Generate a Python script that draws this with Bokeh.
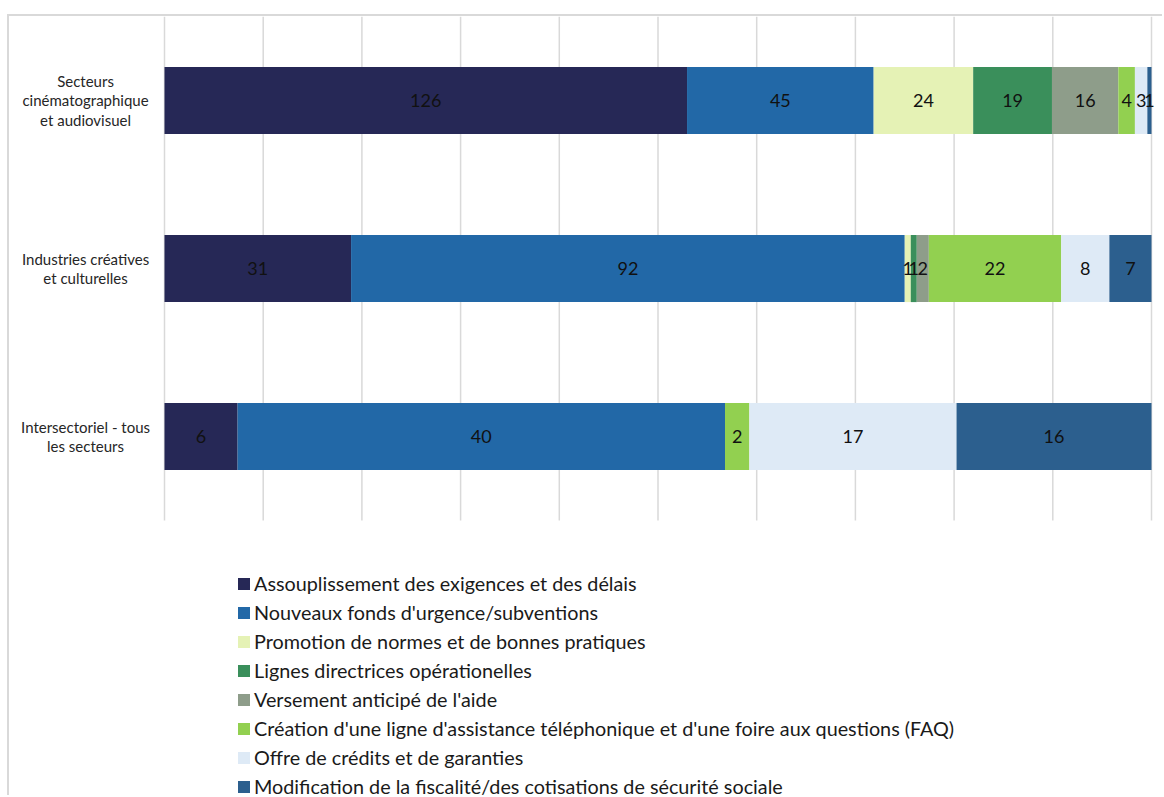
from bokeh.plotting import figure
from bokeh.models import ColumnDataSource, Range1d
from bokeh.core.properties import value
from bokeh.embed import file_html
from bokeh.resources import INLINE

categories = [
    "Secteurs\ncinématographique\net audiovisuel",
    "Industries créatives\net culturelles",
    "Intersectoriel - tous\nles secteurs",
]
series_labels = [
    "Assouplissement des exigences et des délais",
    "Nouveaux fonds d'urgence/subventions",
    "Promotion de normes et de bonnes pratiques",
    "Lignes directrices opérationelles",
    "Versement anticipé de l'aide",
    "Création d'une ligne d'assistance téléphonique et d'une foire aux questions (FAQ)",
    "Offre de crédits et de garanties",
    "Modification de la fiscalité/des cotisations de sécurité sociale",
]
assouplissement = [126, 31, 6]
nouveaux_fonds = [45, 92, 40]
promotion = [24, 1, 0]
lignes = [19, 1, 0]
versement = [16, 2, 0]
creation = [4, 22, 2]
offre = [3, 8, 17]
modification = [1, 7, 16]
grid_ticks = [0.0, 0.1, 0.2, 0.3, 0.4, 0.5, 0.6, 0.7, 0.8, 0.9, 1.0]
colors = ["#262856", "#2268A7", "#E5F2B5", "#3A8F5B", "#8E9D8A", "#92D050", "#DEEAF6", "#2C5F8E"]

series = [assouplissement, nouveaux_fonds, promotion, lignes, versement, creation, offre, modification]
keys = [f"s{i}" for i in range(len(series))]
n = len(categories)
totals = [sum(s[j] for s in series) for j in range(n)]
ypos = list(range(n))  # category slots, top to bottom

data = {"y": ypos, "cat": categories}
for k, s in zip(keys, series):
    data[k] = [v / t for v, t in zip(s, totals)]
source = ColumnDataSource(data)

# layout (pixels)
W, H = 1155, 781
band_px = 168.0
left_px = 155.0      # space left of 0 %
plot_px = 987.0      # width of 100 %
x_start = -left_px / plot_px
x_end = (W - left_px) / plot_px
y_top = -0.5
y_bottom = y_top + H / band_px

p = figure(
    width=W, height=H,
    x_range=Range1d(x_start, x_end),
    y_range=Range1d(y_bottom, y_top),
    x_axis_type=None, y_axis_type=None,
    output_backend="svg", toolbar_location=None,
    min_border=0,
)
p.styles = {"border-left": "2px solid #D9D9D9", "border-top": "2px solid #D9D9D9",
            "margin-left": "7px", "margin-top": "14px"}
p.outline_line_color = None
p.background_fill_color = "white"
p.border_fill_color = "white"
p.grid.visible = False

# vertical gridlines over the bar area only
p.segment(x0=grid_ticks, x1=grid_ticks, y0=[y_top] * len(grid_ticks),
          y1=[n - 0.5] * len(grid_ticks), line_color="#D9D9D9", line_width=1.5)

p.hbar_stack(keys, y="y", height=0.4, color=colors, source=source,
             line_width=0, legend_label=series_labels)

# value labels
lx, ly, lt = [], [], []
for j in range(n):
    cum = 0.0
    for s in series:
        frac = s[j] / totals[j]
        if s[j] > 0:
            lx.append(cum + frac / 2)
            ly.append(ypos[j])
            lt.append(str(s[j]))
        cum += frac
p.text(x=lx, y=ly, text=lt, text_align="center", text_baseline="middle",
       text_font=value("Lato"), text_font_size="18px", text_color="#111111")

# category labels
p.text(x=[-0.08] * n, y=ypos, text=categories, text_align="center", text_baseline="middle",
       text_font=value("Lato"), text_font_size="15px", text_color="#262626",
       text_line_height=1.08)

lg = p.legend[0]
lg.location = (227, -1)
lg.margin = 0
lg.padding = 0
lg.spacing = 5
lg.glyph_width = 15
lg.glyph_height = 15
lg.label_height = 15
lg.label_standoff = 3
lg.label_text_font = "Lato"
lg.label_text_font_size = "19.8px"
lg.label_text_color = "#1a1a1a"
lg.border_line_color = None
lg.background_fill_alpha = 0

open("out.html", "w").write(file_html(p, INLINE))
